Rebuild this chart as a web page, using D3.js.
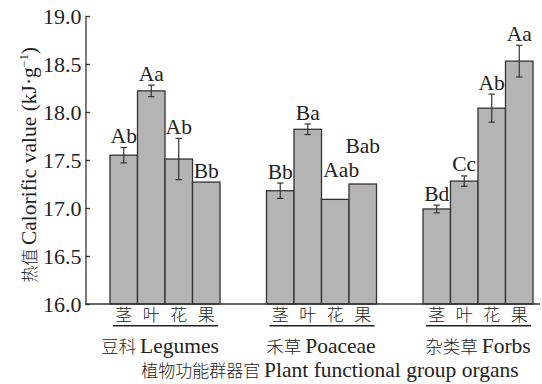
<!DOCTYPE html>
<html>
<head>
<meta charset="utf-8">
<script src="https://cdn.jsdelivr.net/npm/d3@7"></script>
<style>
  html, body { margin: 0; padding: 0; background: #fff; }
</style>
</head>
<body>
<svg id="chart" width="542" height="384"></svg>
<script>
// Functional groups and organs
const groups = ["豆科 Legumes", "禾草 Poaceae", "杂类草 Forbs"];
const organs = ["茎", "叶", "花", "果"];

// Calorific value (kJ·g⁻¹) per organ, one array per group
const legumesMean = [17.55, 18.22, 17.51, 17.27];
const poaceaeMean = [17.18, 17.82, 17.09, 17.25];
const forbsMean   = [16.99, 17.28, 18.04, 18.53];

// Standard errors (0 = no error bar drawn)
const legumesErr = [0.08, 0.06, 0.215, 0];
const poaceaeErr = [0.08, 0.055, 0, 0];
const forbsErr   = [0.04, 0.054, 0.146, 0.165];

// Significance letters
const legumesSig = ["Ab", "Aa", "Ab", "Bb"];
const poaceaeSig = ["Bb", "Ba", "Aab", "Bab"];
const forbsSig   = ["Bd", "Cc", "Ab", "Aa"];

const yTicks = [16.0, 16.5, 17.0, 17.5, 18.0, 18.5, 19.0];

const means = [legumesMean, poaceaeMean, forbsMean];
const errs = [legumesErr, poaceaeErr, forbsErr];
const sigs = [legumesSig, poaceaeSig, forbsSig];

const SERIF = "'Liberation Serif', 'Times New Roman', Times, 'DejaVu Serif', serif";
const CJK = "'Noto Sans CJK SC', 'Noto Sans CJK JP', sans-serif";
const EN_SIZE = 21.5;
const CJK_SIZE = 17;

const svg = d3.select("#chart");
const margin = { left: 85.5, right: 540, top: 16, bottom: 304 };

const y = d3.scaleLinear().domain([16, 19]).range([margin.bottom, margin.top]);

// Outer band: groups; inner band: organs
const x0 = d3.scaleBand().domain(groups).range([110, 533]).paddingInner(0.297).paddingOuter(0);
const x1 = d3.scaleBand().domain(organs).range([0, x0.bandwidth()]).padding(0);

const rows = [];
groups.forEach((g, gi) => organs.forEach((o, oi) => rows.push({
  group: g, organ: o, gi, oi,
  value: means[gi][oi], err: errs[gi][oi], sig: sigs[gi][oi]
})));

// Bars
svg.append("g").selectAll("rect").data(rows).join("rect")
  .attr("x", d => x0(d.group) + x1(d.organ))
  .attr("y", d => y(d.value))
  .attr("width", x1.bandwidth())
  .attr("height", d => y(16) - y(d.value))
  .attr("fill", "#b4b4b4")
  .attr("stroke", "#333")
  .attr("stroke-width", 1.3);

// Error bars
const eb = svg.append("g").attr("stroke", "#333").attr("stroke-width", 1.2);
rows.filter(d => d.err > 0).forEach(d => {
  const cx = x0(d.group) + x1(d.organ) + x1.bandwidth() / 2;
  const y1 = y(d.value + d.err), y2 = y(d.value - d.err);
  eb.append("line").attr("x1", cx).attr("x2", cx).attr("y1", y1).attr("y2", y2);
  eb.append("line").attr("x1", cx - 3.2).attr("x2", cx + 3.2).attr("y1", y1).attr("y2", y1);
  eb.append("line").attr("x1", cx - 3.2).attr("x2", cx + 3.2).attr("y1", y2).attr("y2", y2);
});

// Significance letters above bars; the two bare Poaceae labels are lifted clear
svg.append("g").selectAll("text").data(rows).join("text")
  .attr("x", d => {
    const cx = x0(d.group) + x1(d.organ) + x1.bandwidth() / 2;
    if (d.gi === 1 && d.oi === 2) return cx + 6;
    return cx;
  })
  .attr("y", d => {
    if (d.gi === 1 && d.oi === 2) return y(d.value) - 22;
    if (d.gi === 1 && d.oi === 3) return y(d.value) - 31;
    return y(d.value + d.err) - 4.5;
  })
  .attr("text-anchor", "middle")
  .attr("font-family", SERIF)
  .attr("font-size", EN_SIZE)
  .attr("fill", "#222")
  .text(d => d.sig);

// Y axis with inward ticks
const yAxis = d3.axisLeft(y).tickValues(yTicks).tickSizeInner(-4.5).tickSizeOuter(0)
  .tickPadding(4).tickFormat(d3.format(".1f"));
const gy = svg.append("g").attr("transform", `translate(${margin.left},0)`).call(yAxis)
  .attr("font-family", SERIF).attr("font-size", 22);
gy.select(".domain").attr("stroke", "#333").attr("stroke-width", 1.3);
gy.selectAll(".tick line").attr("stroke", "#333").attr("stroke-width", 1.3);
gy.selectAll(".tick text").attr("fill", "#222");

// X baseline
svg.append("line")
  .attr("x1", margin.left).attr("x2", margin.right)
  .attr("y1", y(16)).attr("y2", y(16))
  .attr("stroke", "#333").attr("stroke-width", 1.3);

// Organ labels, underline and group names
const xg = svg.append("g");
groups.forEach(g => {
  organs.forEach(o => {
    xg.append("text")
      .attr("x", x0(g) + x1(o) + x1.bandwidth() / 2)
      .attr("y", 321)
      .attr("text-anchor", "middle")
      .attr("font-family", CJK)
      .attr("font-weight", 300)
      .attr("font-size", CJK_SIZE)
      .attr("fill", "#222")
      .text(o);
  });
  xg.append("line")
    .attr("x1", x0(g) + 3).attr("x2", x0(g) + x0.bandwidth() - 2)
    .attr("y1", 325.7).attr("y2", 325.7)
    .attr("stroke", "#222").attr("stroke-width", 1.5);
});

const groupCenters = [160, 321, 478];
groups.forEach((g, i) => {
  const [cn, en] = g.split(" ");
  const t = xg.append("text")
    .attr("x", groupCenters[i])
    .attr("y", 353)
    .attr("text-anchor", "middle")
    .attr("font-family", SERIF)
    .attr("font-size", EN_SIZE)
    .attr("fill", "#222");
  t.append("tspan").attr("font-family", CJK).attr("font-weight", 300).attr("font-size", 17.5).text(cn + " ");
  t.append("tspan").text(en);
});

// Axis titles
const xt = svg.append("text").attr("x", 330).attr("y", 377).attr("text-anchor", "middle")
  .attr("font-family", SERIF).attr("font-size", EN_SIZE).attr("fill", "#222");
xt.append("tspan").attr("font-family", CJK).attr("font-weight", 300).attr("font-size", CJK_SIZE).text("植物功能群器官 ");
xt.append("tspan").text("Plant functional group organs");

const yt = svg.append("text")
  .attr("transform", "translate(36,165) rotate(-90)")
  .attr("text-anchor", "middle")
  .attr("font-family", SERIF)
  .attr("font-size", EN_SIZE)
  .attr("fill", "#222");
yt.append("tspan").attr("font-family", CJK).attr("font-weight", 300).attr("font-size", CJK_SIZE).text("热值 ");
yt.append("tspan").text("Calorific value (kJ·g");
yt.append("tspan").attr("font-size", 12).attr("dy", -8).text("−1");
yt.append("tspan").attr("dy", 8).text(")");
</script>
</body>
</html>
